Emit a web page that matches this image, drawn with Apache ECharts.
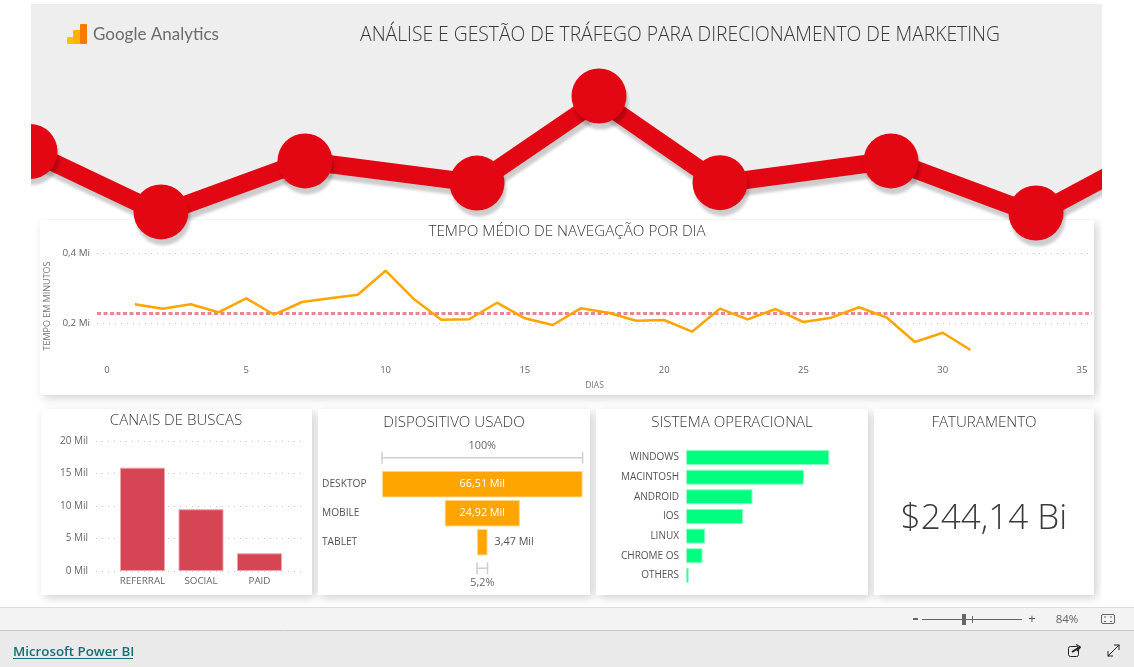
<!DOCTYPE html>
<html><head><meta charset="utf-8">
<style>html,body{margin:0;padding:0;background:#fff;overflow:hidden}#c{width:1134px;height:667px}</style>
<script src="https://cdn.jsdelivr.net/npm/echarts@6/dist/echarts.min.js"></script>
</head><body><div id="c"></div>
<script>
const trendX=[3,16.1,30.5,47.7,59.9,72,89.1,103.6,118];
const trendMarkerY=[31.4,3.3,27,16.7,57.2,16.9,27,2.8,38];
const trendLineY=[31.4,2.5,27,16.7,55.4,16.5,27.2,2.1,38];
const dayX=[1,2,3,4,5,6,7,8,9,10,11,12,13,14,15,16,17,18,19,20,21,22,23,24,25,26,27,28,29,30,31];
const dayY=[.2549,.2423,.2549,.232,.272,.2251,.2614,.272,.2823,.3509,.2709,.2109,.212,.2594,.2149,.1957,.2434,.2309,.208,.21,.1766,.2423,.212,.2414,.2043,.2166,.2463,.2166,.1471,.1737,.1243];
const dayAverage=.2286;
const channelNames=['REFERRAL','SOCIAL','PAID'];
const channelValues=[15.9,9.5,2.72];
const deviceNames=['DESKTOP','MOBILE','TABLET'];
const deviceValues=[66.51,24.92,3.47];
const osNames=['WINDOWS','MACINTOSH','ANDROID','IOS','LINUX','CHROME OS','OTHERS'];
const osValues=[32.1,26.4,14.9,12.8,4.3,3.7,0.6];
const revenueText='$244,14 Bi';

const LIGHT='"Open Sans"', REG='"Open Sans"';
const panel=(x,y,w,h)=>({type:'rect',z:0,shape:{x,y,width:w,height:h},style:{fill:'#fff',shadowBlur:9,shadowColor:'rgba(0,0,0,.18)',shadowOffsetX:3,shadowOffsetY:3}});
const txt=(x,y,text,size,color,align,extra)=>({type:'text',z:11,x,y,style:Object.assign({text,fontSize:size,fill:color,align:align||'center',verticalAlign:'middle',fontFamily:REG},extra||{})});
const ttl=(text,x,y,size)=>({text,left:x,top:y,textAlign:'center',textVerticalAlign:'middle',padding:0,textStyle:{fontFamily:LIGHT,fontWeight:300,fontSize:size,color:'#3a3a3a'}});
const gline=(x1,y1,x2,y2,c,w)=>({type:'line',z:11,shape:{x1,y1,x2,y2},style:{stroke:c,lineWidth:w||1}});
const grect=(x,y,w,h,c,r)=>({type:'rect',z:11,shape:{x,y,width:w,height:h,r:r||0},style:{fill:c}});
const mil=v=>v.toFixed(2).replace('.',',')+' Mil';
const shadow={shadowColor:'rgba(0,0,0,.2)',shadowBlur:3,shadowOffsetX:2,shadowOffsetY:6};
const dotted={show:true,lineStyle:{type:[1,5],color:'#c8c8c8',width:1}};
const down={padding:[3,0,0,0]};

const chart=echarts.init(document.getElementById('c'),null,{renderer:'canvas'});
chart.setOption({
 animation:false,
 backgroundColor:'#fff',
 title:[
  ttl('ANÁLISE E GESTÃO DE TRÁFEGO PARA DIRECIONAMENTO DE MARKETING',680,36,19.3),
  ttl('TEMPO MÉDIO DE NAVEGAÇÃO POR DIA',567,232,15.2),
  ttl('CANAIS DE BUSCAS',176,421,15.1),
  ttl('DISPOSITIVO USADO',454,423,15.1),
  ttl('SISTEMA OPERACIONAL',732,423,15.1),
  ttl('FATURAMENTO',984,423,15.1)
 ],
 grid:[
  {left:0,top:4,width:1134,height:215},
  {left:97,top:253.5,width:995,height:105},
  {left:96,top:441,width:210,height:130},
  {left:382,top:469.7,width:200.6,height:87},
  {left:686,top:447.7,width:178.6,height:137.5}
 ],
 xAxis:[
  {gridIndex:0,type:'value',min:0,max:113.4,show:false},
  {gridIndex:1,type:'value',min:-.36,max:35.36,splitLine:{show:false},axisLine:{show:false},axisTick:{show:false},
   axisLabel:{customValues:[0,5,10,15,20,25,30,35],fontSize:9.5,color:'#666',margin:7,fontFamily:REG},
   name:'DIAS',nameLocation:'middle',nameGap:23,nameTextStyle:{fontSize:8.5,color:'#777',fontFamily:REG}},
  {gridIndex:2,type:'value',min:.205,max:3.795,splitLine:{show:false},axisLine:{show:false},axisTick:{show:false},
   axisLabel:{customValues:[1,2,3],formatter:v=>channelNames[v-1],fontSize:9.8,color:'#666',margin:5,fontFamily:REG}},
  {gridIndex:3,type:'value',min:0,max:66.51,show:false},
  {gridIndex:4,type:'value',min:0,max:40,show:false}
 ],
 yAxis:[
  {gridIndex:0,type:'value',min:0,max:100,show:false},
  {gridIndex:1,type:'value',min:.1,max:.4,axisLine:{show:false},axisTick:{show:false,customValues:[.2,.4]},
   splitLine:dotted,
   axisLabel:Object.assign({customValues:[.2,.4],formatter:v=>v.toFixed(1).replace('.',',')+' Mi',fontSize:9.8,color:'#666',margin:7,fontFamily:REG},down),
   name:'TEMPO EM MINUTOS',nameLocation:'middle',nameGap:44,nameTextStyle:{fontSize:9,color:'#777',fontFamily:REG}},
  {gridIndex:2,type:'value',min:0,max:20,interval:5,axisLine:{show:false},axisTick:{show:false},splitLine:dotted,
   axisLabel:Object.assign({formatter:v=>v+' Mil',fontSize:10,color:'#666',margin:8,fontFamily:REG},down)},
  {gridIndex:3,type:'category',inverse:true,data:deviceNames,axisLine:{show:false},axisTick:{show:false},
   axisLabel:Object.assign({align:'left',margin:60,fontSize:10.2,color:'#555',fontFamily:REG},{padding:[4,0,0,0]})},
  {gridIndex:4,type:'category',inverse:true,data:osNames,axisLine:{show:false},axisTick:{show:false},
   axisLabel:Object.assign({margin:7,fontSize:10,color:'#555',fontFamily:REG},{padding:[4,0,0,0]})}
 ],
 series:[
  {type:'line',z:2,xAxisIndex:0,yAxisIndex:0,data:trendX.map((x,i)=>[x,trendLineY[i]]),symbol:'none',
   lineStyle:Object.assign({color:'#E30613',width:18},shadow),
   areaStyle:{color:'#fff',opacity:1},silent:true},
  {type:'scatter',z:5,xAxisIndex:0,yAxisIndex:0,data:trendX.map((x,i)=>[x,trendMarkerY[i]]),symbol:'circle',symbolSize:55,silent:true,clip:false,
   itemStyle:Object.assign({color:'#E30613',opacity:1},shadow)},
  {type:'line',xAxisIndex:1,yAxisIndex:1,data:dayX.map((x,i)=>[x,dayY[i]]),symbol:'none',
   lineStyle:{color:'#FFA500',width:2.5},
   markLine:{z:1,silent:true,symbol:'none',label:{show:false},lineStyle:{color:'#E68692',type:[4,2.5],width:3},data:[{yAxis:dayAverage}]}},
  {type:'bar',xAxisIndex:2,yAxisIndex:2,barWidth:45,data:channelValues.map((v,i)=>[i+1,v]),
   itemStyle:{color:'#D64554',borderColor:'#EFA2AB',borderWidth:1}},
  {type:'bar',xAxisIndex:3,yAxisIndex:3,stack:'d',barWidth:26.5,silent:true,itemStyle:{color:'transparent'},
   data:deviceValues.map(v=>(deviceValues[0]-v)/2)},
  {type:'bar',xAxisIndex:3,yAxisIndex:3,stack:'d',barWidth:26.5,
   itemStyle:{color:'#FFA500',borderColor:'#FFD58A',borderWidth:1},
   data:deviceValues.map((v,i)=>({value:v,label:i<2
     ?{show:true,position:'inside',color:'#fff',formatter:mil(v),fontSize:10.8,fontFamily:REG,padding:[4,0,0,0]}
     :{show:true,position:'right',distance:7,color:'#555',formatter:mil(v),fontSize:10.8,fontFamily:REG,padding:[3,0,0,0]}}))},
  {type:'custom',xAxisIndex:3,yAxisIndex:3,silent:true,
   data:[[0,deviceValues[0],0,-26.5],[(deviceValues[0]-deviceValues[2])/2,(deviceValues[0]+deviceValues[2])/2,2,26]],
   encode:{x:[0,1],y:2},
   renderItem:(p,api)=>{
    const a=api.coord([api.value(0),api.value(2)]),b=api.coord([api.value(1),api.value(2)]);
    const off=api.value(3),y=a[1]+off,lab=['100%','5,2%'][p.dataIndex];
    const st={stroke:'#cfcfcf',lineWidth:1.5};
    return {type:'group',children:[
     {type:'line',shape:{x1:a[0],y1:y,x2:b[0],y2:y},style:st},
     {type:'line',shape:{x1:a[0],y1:y-6,x2:a[0],y2:y+6},style:st},
     {type:'line',shape:{x1:b[0],y1:y-6,x2:b[0],y2:y+6},style:st},
     {type:'text',x:(a[0]+b[0])/2,y:y+(off<0?-12:15),style:{text:lab,fontSize:10.8,fill:'#666',align:'center',verticalAlign:'middle',fontFamily:REG}}
    ]};
   }},
  {type:'bar',xAxisIndex:4,yAxisIndex:4,barWidth:15,data:osValues,itemStyle:{color:'#00FF7F',borderColor:'#8FFFC4',borderWidth:1}}
 ],
 graphic:{elements:[
  {type:'rect',z:0,shape:{x:31,y:4,width:1071,height:215},style:{fill:'#EEEEEE'}},
  panel(40,220,1054,175),panel(41,409,271,186),panel(318,409,272,186),panel(596,409,272,186),panel(874,409,220,186),
  {type:'rect',z:10,shape:{x:0,y:0,width:31,height:600},style:{fill:'#fff'}},
  {type:'rect',z:10,shape:{x:1102,y:0,width:32,height:600},style:{fill:'#fff'}},
  // logo
  grect(67,37,7,7,'#FFC107',1),grect(73,30,8,14,'#FFB300',1),grect(80,24,7,20,'#F57C00',1),
  txt(93,35,'Google Analytics',17,'#6b6b6b','left',{fontFamily:'Lato'}),
  // KPI
  txt(984,519,revenueText,35,'#3a3a3a','center',{fontFamily:LIGHT,fontWeight:300}),
  // bottom chrome
  {type:'rect',z:9,shape:{x:0,y:607,width:1134,height:24},style:{fill:'#F3F3F3'}},
  {type:'rect',z:9,shape:{x:0,y:631,width:1134,height:36},style:{fill:'#EAEAEA'}},
  gline(0,607.5,1134,607.5,'#dcdcdc'),gline(0,630.5,1134,630.5,'#c8c8c8'),
  grect(913,618,5,2,'#666'),gline(922,619.5,1022,619.5,'#666',1.2),grect(962,614,4,11,'#666'),gline(972.5,616,972.5,623,'#666'),
  txt(1032,619,'+',13,'#555'),txt(1067,619.5,'84%',11.5,'#666'),
  {type:'rect',z:11,shape:{x:1101.5,y:614.5,width:13,height:9,r:1.5},style:{fill:'none',stroke:'#666',lineWidth:1}},
  gline(1104,617,1106,617,'#666'),gline(1110,617,1112,617,'#666'),gline(1104,621.5,1106,621.5,'#666'),gline(1110,621.5,1112,621.5,'#666'),
  txt(13,652.5,'Microsoft Power BI',13.3,'#126E77','left',{fontWeight:600,fontFamily:'Open Sans'}),
  gline(13,658.5,133,658.5,'#126E77',1),
  // share icon
  {type:'rect',z:11,shape:{x:1068.5,y:646.5,width:10,height:10,r:2},style:{fill:'none',stroke:'#222',lineWidth:1}},
  gline(1072,652,1080,647,'#222',2),gline(1076,644.5,1080.5,647,'#222',1.3),gline(1080.5,647,1077,651,'#222',1.3),
  // expand icon
  gline(1108,656,1119,645,'#222',1),gline(1108,651,1108,656.5,'#222',1),gline(1108,656,1113,656,'#222',1),
  gline(1114,645,1119.5,645,'#222',1),gline(1119,645,1119,650,'#222',1)
 ]}
});
</script></body></html>
